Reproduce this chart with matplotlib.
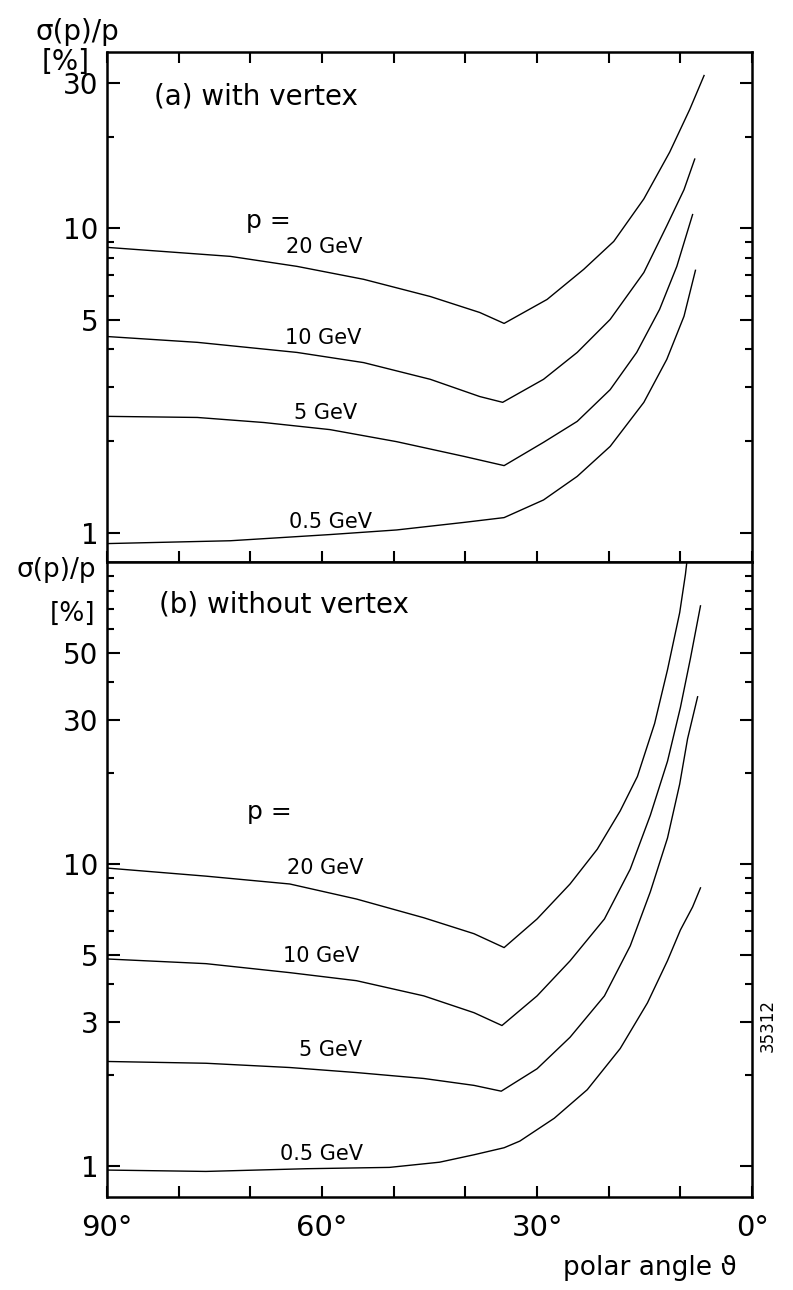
import matplotlib
matplotlib.use('Agg')
import matplotlib.pyplot as plt

plt.rcParams['font.family'] = ['DejaVu Sans']

# (a) with vertex: polar angle [deg] and sigma(p)/p [%]
a_20_theta = [90, 72.8, 63.5, 54.2, 44.9, 38.0, 34.6, 28.6, 23.5, 19.3, 15.1, 11.5, 8.7, 6.7]
a_20_sig = [8.66, 8.09, 7.50, 6.80, 5.97, 5.29, 4.87, 5.84, 7.33, 9.06, 12.5, 17.8, 24.6, 31.8]
a_10_theta = [90, 77.4, 63.5, 54.2, 44.9, 38.0, 34.8, 29.1, 24.4, 19.8, 15.1, 11.9, 9.5, 8.0]
a_10_sig = [4.41, 4.22, 3.91, 3.62, 3.19, 2.80, 2.68, 3.19, 3.91, 5.02, 7.16, 10.2, 13.4, 16.9]
a_5_theta = [90, 77.4, 68.1, 58.9, 49.6, 40.2, 34.6, 29.1, 24.4, 19.8, 16.1, 12.9, 10.5, 8.3]
a_5_sig = [2.41, 2.39, 2.30, 2.18, 1.99, 1.78, 1.66, 1.98, 2.32, 2.95, 3.91, 5.42, 7.50, 11.1]
a_05_theta = [90, 72.8, 58.9, 49.6, 40.2, 34.6, 29.1, 24.4, 19.8, 15.1, 11.9, 9.5, 7.9]
a_05_sig = [0.92, 0.94, 0.985, 1.02, 1.08, 1.12, 1.28, 1.53, 1.92, 2.68, 3.71, 5.14, 7.28]

# (b) without vertex
b_20_theta = [90, 76.2, 64.5, 55.2, 45.8, 38.8, 34.6, 30.0, 25.4, 21.6, 18.4, 16.0, 13.6, 11.8, 10.1, 9.3, 9.0]
b_20_sig = [9.7, 9.12, 8.59, 7.66, 6.64, 5.88, 5.29, 6.58, 8.59, 11.2, 15.0, 19.5, 29.2, 44, 68, 91, 105]
b_10_theta = [90, 76.2, 64.5, 55.2, 45.8, 38.8, 34.9, 30.0, 25.4, 20.6, 17.0, 14.2, 11.8, 10.0, 8.6, 7.2]
b_10_sig = [4.85, 4.68, 4.37, 4.11, 3.66, 3.22, 2.92, 3.66, 4.78, 6.58, 9.62, 14.5, 21.9, 33.0, 48, 71.6]
b_5_theta = [90, 76.2, 64.5, 55.2, 45.8, 38.8, 35.0, 30.0, 25.4, 20.6, 17.0, 14.2, 11.8, 10.1, 9.0, 7.6]
b_5_sig = [2.22, 2.19, 2.12, 2.04, 1.95, 1.85, 1.77, 2.10, 2.67, 3.66, 5.36, 8.09, 12.2, 18.4, 26, 35.8]
b_05_theta = [90, 76.2, 62.2, 50.6, 43.6, 38.8, 34.6, 32.4, 27.6, 23.0, 18.4, 14.6, 11.8, 10.0, 8.3, 7.2]
b_05_sig = [0.97, 0.96, 0.98, 0.99, 1.03, 1.09, 1.15, 1.21, 1.44, 1.79, 2.45, 3.47, 4.79, 6.05, 7.21, 8.34]

x_ticks = [90, 80, 70, 60, 50, 40, 30, 20, 10, 0]
x_labels = ['90°', '', '', '60°', '', '', '30°', '', '', '0°']

a_major = [1, 5, 10, 30]
a_minor = [2, 3, 4, 6, 7, 8, 9, 20]
b_major = [1, 3, 5, 10, 30, 50]
b_minor = [2, 4, 6, 7, 8, 9, 20, 40, 60, 70, 80, 90]

# label positions (angle, value, text)
a_labels = [(67.5, 10.6, 'p ='), (59.7, 8.7, '20 GeV'), (59.9, 4.35, '10 GeV'),
            (59.5, 2.48, '5 GeV'), (58.8, 1.087, '0.5 GeV')]
b_labels = [(67.3, 14.9, 'p ='), (59.5, 9.7, '20 GeV'), (60.1, 4.97, '10 GeV'),
            (58.8, 2.43, '5 GeV'), (60.1, 1.10, '0.5 GeV')]

fig = plt.figure(figsize=(7.93, 12.9), dpi=100)
ax_a = fig.add_axes([0.135, 0.5643, 0.8134, 0.3954])
ax_b = fig.add_axes([0.135, 0.0721, 0.8134, 0.4922])


def style(ax, ylim, major, minor):
    ax.set_yscale('log')
    ax.set_xlim(90, 0)
    ax.set_ylim(*ylim)
    for s in ax.spines.values():
        s.set_linewidth(1.8)
    ax.set_yticks(major, [str(v) for v in major])
    ax.set_yticks(minor, minor=True)
    ax.yaxis.set_minor_formatter(plt.NullFormatter())
    ax.tick_params(axis='y', which='both', direction='in', left=True, right=True,
                   labelright=False, width=1.5, labelsize=20, pad=6)
    ax.tick_params(axis='y', which='major', length=9)
    ax.tick_params(axis='y', which='minor', length=5)
    ax.set_xticks(x_ticks, x_labels)
    ax.tick_params(axis='x', which='both', direction='in', width=1.5, length=8,
                   labelsize=21, pad=12)


style(ax_a, (0.8, 38), a_major, a_minor)
style(ax_b, (0.79, 100), b_major, b_minor)
ax_a.tick_params(axis='x', top=True, bottom=True, labelbottom=False)
ax_b.tick_params(axis='x', top=False, bottom=True, labelbottom=True)

lw = 1.0
for t, s in [(a_20_theta, a_20_sig), (a_10_theta, a_10_sig),
             (a_5_theta, a_5_sig), (a_05_theta, a_05_sig)]:
    ax_a.plot(t, s, color='black', lw=lw)
for t, s in [(b_20_theta, b_20_sig), (b_10_theta, b_10_sig),
             (b_5_theta, b_5_sig), (b_05_theta, b_05_sig)]:
    ax_b.plot(t, s, color='black', lw=lw)

for x, y, txt in a_labels:
    ax_a.text(x, y, txt, fontsize=15 if txt != 'p =' else 18, ha='center', va='center')
for x, y, txt in b_labels:
    ax_b.text(x, y, txt, fontsize=15 if txt != 'p =' else 18, ha='center', va='center')

ax_a.text(83.5, 27.2, '(a) with vertex', fontsize=20, ha='left', va='center')
ax_b.text(82.7, 72.6, '(b) without vertex', fontsize=20, ha='left', va='center')

fig.text(0.097, 0.975, 'σ(p)/p', fontsize=20, ha='center', va='center')
fig.text(0.083, 0.952, '[%]', fontsize=20, ha='center', va='center')
fig.text(0.071, 0.558, 'σ(p)/p', fontsize=19, ha='center', va='center')
fig.text(0.092, 0.524, '[%]', fontsize=19, ha='center', va='center')
fig.text(0.82, 0.017, 'polar angle ϑ', fontsize=19, ha='center', va='center')
fig.text(0.968, 0.205, '35312', fontsize=12, ha='center', va='center', rotation=90)

fig.savefig('out.png', dpi=100)
